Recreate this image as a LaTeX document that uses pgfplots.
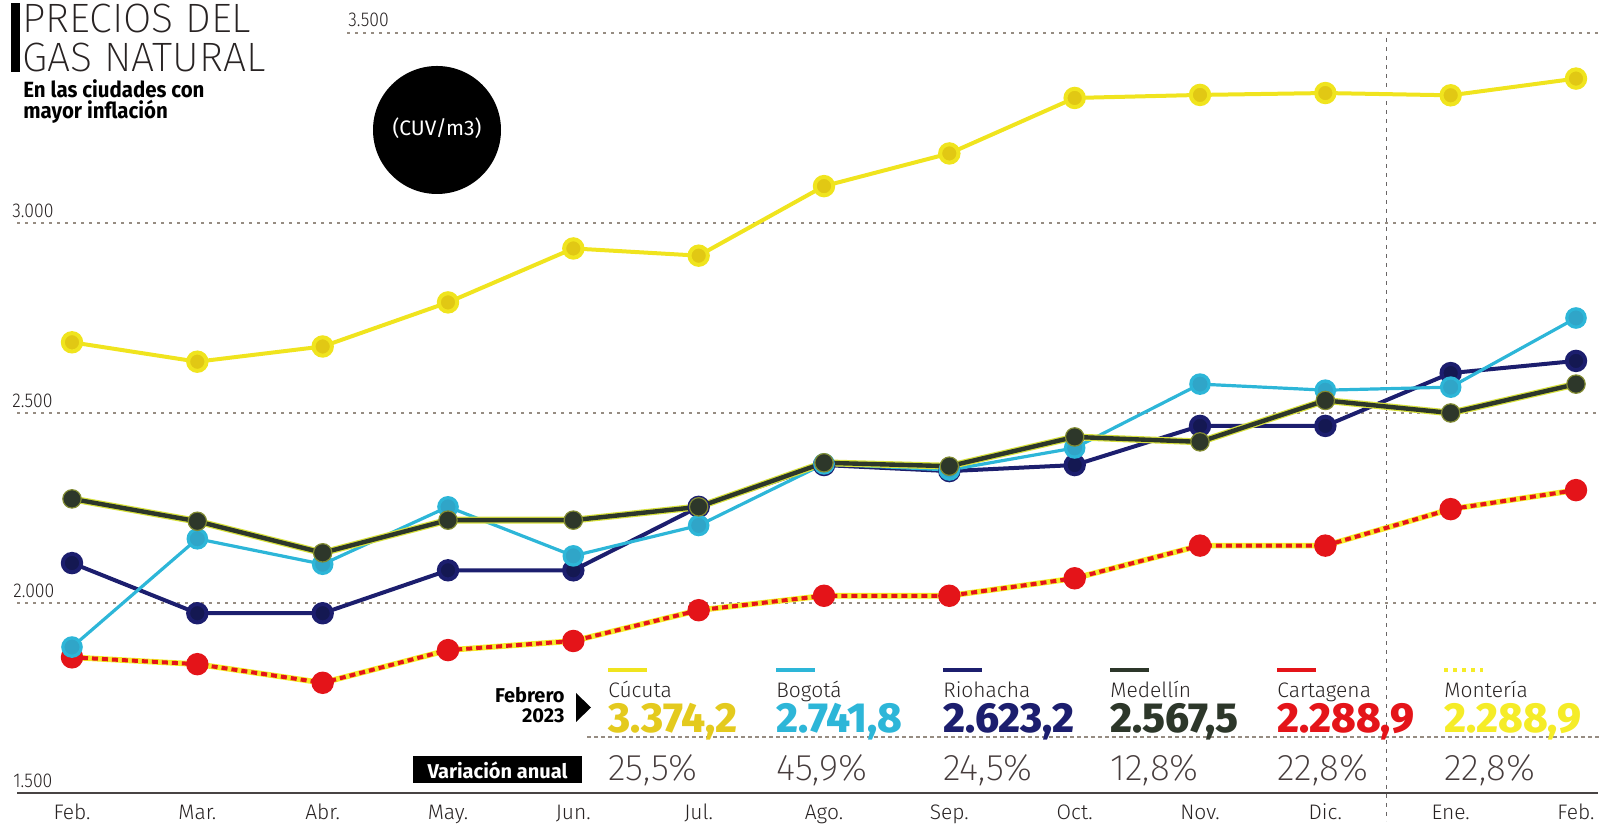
\documentclass[border=0pt]{standalone}
\usepackage{fontspec}
\setmainfont{Fira Sans}
\newfontfamily\lt{Fira Sans Light}
\newfontfamily\xlt{Fira Sans ExtraLight}
\newfontfamily\xb{Fira Sans ExtraBold}
\newfontfamily\cond[FakeStretch=0.82]{Fira Sans}
\newfontfamily\condb[FakeStretch=0.93]{Fira Sans Bold}
\newfontfamily\condl[FakeStretch=0.88]{Fira Sans Light}
\usepackage{pgfplots}
\pgfplotsset{compat=1.18}
\definecolor{cyel}{RGB}{240,228,30}
\definecolor{cyeld}{RGB}{225,200,20}
\definecolor{cnum}{RGB}{228,202,30}
\definecolor{cyan1}{RGB}{45,182,216}
\definecolor{cyan2}{RGB}{48,165,200}
\definecolor{navy1}{RGB}{28,30,110}
\definecolor{navy2}{RGB}{20,24,82}
\definecolor{med1}{RGB}{45,55,42}
\definecolor{medh}{RGB}{215,225,60}
\definecolor{red1}{RGB}{228,20,25}
\definecolor{myel}{RGB}{245,236,40}
\definecolor{txt}{RGB}{40,35,35}
\definecolor{pct}{RGB}{70,60,60}
\definecolor{grd}{RGB}{150,140,130}
\begin{document}
\begin{tikzpicture}
\begin{scope}[x=0.5pt,y=-0.5pt,shift={(0pt,410.5pt)}]
\path[use as bounding box] (0,0) rectangle (1602,821);
% grid lines
\draw[grd,line width=0.6pt,dash pattern=on 1.5pt off 2.5pt] (347,33) -- (1600,33);
\draw[grd,line width=0.6pt,dash pattern=on 1.5pt off 2.5pt] (17,223) -- (1600,223);
\draw[grd,line width=0.6pt,dash pattern=on 1.5pt off 2.5pt] (17,413) -- (1600,413);
\draw[grd,line width=0.6pt,dash pattern=on 1.5pt off 2.5pt] (17,603) -- (1600,603);
\draw[txt!70,line width=0.5pt,dash pattern=on 2pt off 2.5pt] (1386,38) -- (1386,821);
\draw[txt!85,line width=1pt] (17,793) -- (1598,793);
% tick labels
\node[anchor=base west,inner sep=0pt,font=\condl\fontsize{10}{10}\selectfont,text=txt] at (348,27) {3.500};
\node[anchor=base west,inner sep=0pt,font=\condl\fontsize{10}{10}\selectfont,text=txt] at (12,218) {3.000};
\node[anchor=base west,inner sep=0pt,font=\condl\fontsize{10}{10}\selectfont,text=txt] at (12,408) {2.500};
\node[anchor=base west,inner sep=0pt,font=\condl\fontsize{10}{10}\selectfont,text=txt] at (13,598) {2.000};
\node[anchor=base west,inner sep=0pt,font=\condl\fontsize{10}{10}\selectfont,text=txt] at (13,788) {1.500};
% title
\fill[black] (11,3) rectangle (20,72);
\node[anchor=base west,inner sep=0pt,font=\xlt\fontsize{20.5}{20.5}\selectfont,text=txt] at (22,33) {PRECIOS DEL};
\node[anchor=base west,inner sep=0pt,font=\xlt\fontsize{20.5}{20.5}\selectfont,text=txt] at (22,72) {GAS NATURAL};
\node[anchor=base west,inner sep=0pt,font=\condb\fontsize{11}{11}\selectfont,text=black] at (23,98) {En las ciudades con};
\node[anchor=base west,inner sep=0pt,font=\condb\fontsize{11}{11}\selectfont,text=black] at (23,119) {mayor inflación};
% circle
\fill[black] (437,130) circle (32pt);
\node[inner sep=0pt,font=\fontsize{10.5}{10.5}\selectfont,text=white] at (437,128) {(CUV/m3)};
\end{scope}

\begin{axis}[at={(36pt,14pt)}, anchor=south west, scale only axis,
  width=752pt, height=380pt, xmin=0, xmax=12, ymin=1500, ymax=3500,
  axis lines=none, clip=false]
% Cartagena / Monteria
\addplot[myel, line width=2.8pt] coordinates {(0,1857)(1,1839)(2,1790)(3,1876)(4,1900)(5,1981)(6,2019)(7,2019)(8,2065)(9,2151)(10,2151)(11,2247)(12,2297)};
\addplot[red1, line width=2pt, dash pattern=on 3pt off 2pt, mark=*, mark size=4.6pt, mark options={solid, fill=red1, draw=red1}] coordinates {(0,1857)(1,1839)(2,1790)(3,1876)(4,1900)(5,1981)(6,2019)(7,2019)(8,2065)(9,2151)(10,2151)(11,2247)(12,2297)};
% Riohacha
\addplot[navy1, line width=2pt, mark=*, mark size=4.6pt, mark options={fill=navy2, draw=navy1}] coordinates {(0,2105)(1,1973)(2,1973)(3,2086)(4,2086)(5,2253)(6,2363)(7,2347)(8,2363)(9,2466)(10,2466)(11,2605)(12,2637)};
% Bogota
\addplot[cyan1, line width=1.6pt, mark=*, mark size=4.6pt, mark options={fill=cyan2, draw=cyan1}] coordinates {(0,1884)(1,2169)(2,2102)(3,2253)(4,2124)(5,2204)(6,2366)(7,2350)(8,2408)(9,2576)(10,2560)(11,2568)(12,2750)};
% Medellin
\addplot[medh, line width=3.4pt] coordinates {(0,2274)(1,2215)(2,2132)(3,2218)(4,2218)(5,2253)(6,2369)(7,2360)(8,2437)(9,2424)(10,2533)(11,2500)(12,2576)};
\addplot[med1, line width=2.2pt, mark=*, mark size=4.6pt, mark options={fill=med1, draw=medh!50!med1, line width=0.6pt}] coordinates {(0,2274)(1,2215)(2,2132)(3,2218)(4,2218)(5,2253)(6,2369)(7,2360)(8,2437)(9,2424)(10,2533)(11,2500)(12,2576)};
% Cucuta
\addplot[cyel, line width=2pt, mark=*, mark size=4.6pt, mark options={fill=cyeld, draw=cyel}] coordinates {(0,2686)(1,2635)(2,2675)(3,2791)(4,2933)(5,2914)(6,3097)(7,3183)(8,3329)(9,3337)(10,3342)(11,3336)(12,3380)};
\end{axis}

\begin{scope}[x=0.5pt,y=-0.5pt,shift={(0pt,410.5pt)}]
% month labels
\foreach \m [count=\i from 0] in {Feb.,Mar.,Abr.,May.,Jun.,Jul.,Ago.,Sep.,Oct.,Nov.,Dic.,Ene.,Feb.}{
  \node[anchor=base,inner sep=0pt,font=\lt\fontsize{10.5}{10.5}\selectfont,text=txt] at ({72+\i*125.33},820) {\m};
}
% Febrero 2023
\node[anchor=base east,inner sep=0pt,font=\bfseries\fontsize{10}{10}\selectfont] at (565,703) {Febrero};
\node[anchor=base east,inner sep=0pt,font=\bfseries\fontsize{10}{10}\selectfont] at (565,723) {2023};
\fill[black] (576,693) -- (576,722) -- (591,707.5) -- cycle;
\fill[black] (413,756) rectangle (582,783);
\node[inner sep=0pt,font=\bfseries\fontsize{10}{10}\selectfont,text=white] at (497.5,770) {Variación anual};
\draw[grd,line width=0.6pt,dash pattern=on 2pt off 1.5pt] (587,737) -- (1600,737);
% legend columns
\draw[cyel,line width=2pt] (608,670) -- (647,670);
\draw[cyan1,line width=2pt] (776,670) -- (815,670);
\draw[navy1,line width=2pt] (943,670) -- (982,670);
\draw[med1,line width=2pt] (1110,670) -- (1149,670);
\draw[red1,line width=2pt] (1277,670) -- (1316,670);
\draw[myel,line width=2pt,dash pattern=on 2pt off 2.5pt] (1444,670) -- (1483,670);
\foreach \x/\n in {608/Cúcuta,776/Bogotá,943/Riohacha,1110/Medellín,1277/Cartagena,1444/Montería}{
  \node[anchor=base west,inner sep=0pt,font=\lt\fontsize{10.5}{10.5}\selectfont,text=txt] at (\x,698) {\n};
}
\foreach \x/\v/\c in {608/{3.374,2}/cnum,776/{2.741,8}/cyan1,943/{2.623,2}/navy1,1110/{2.567,5}/med1,1277/{2.288,9}/red1,1444/{2.288,9}/myel}{
  \node[anchor=base west,inner sep=0pt,font=\xb\fontsize{21}{21}\selectfont,text=\c] at (\x,733) {\v};
}
\foreach \x/\p in {608/{25,5\%},776/{45,9\%},943/{24,5\%},1110/{12,8\%},1277/{22,8\%},1444/{22,8\%}}{
  \node[anchor=base west,inner sep=0pt,font=\xlt\fontsize{18.5}{18.5}\selectfont,text=pct] at (\x,781) {\p};
}
\end{scope}
\end{tikzpicture}
\end{document}
